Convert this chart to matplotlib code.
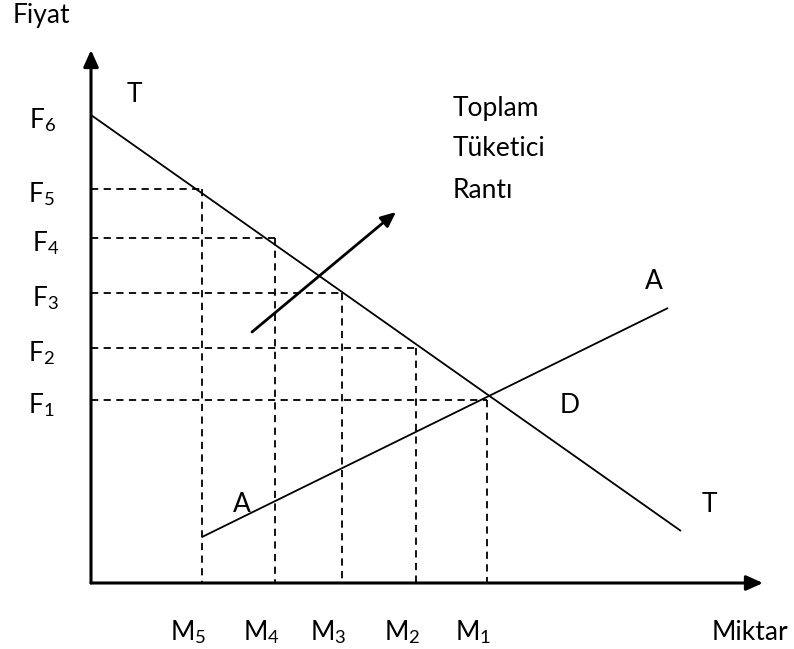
import matplotlib
matplotlib.use("Agg")
import matplotlib.pyplot as plt

plt.rcParams['font.family'] = ['Lato', 'DejaVu Sans']
plt.rcParams['mathtext.fontset'] = 'custom'
plt.rcParams['mathtext.rm'] = 'Lato'
plt.rcParams['mathtext.it'] = 'Lato:italic'

# quantities (M) and prices (F) on the diagram, in axis units
m_labels = ["M5", "M4", "M3", "M2", "M1"]
m_values = [111, 184, 251, 325, 396]
f_labels = ["F5", "F4", "F3", "F2", "F1"]
f_values = [394, 345, 290, 235, 183]
f6_value = 468

# demand (T) and supply (A) lines
demand_x = [0, 590]
demand_y = [468, 52]
supply_x = [111, 577]
supply_y = [46, 275]

# arrow pointing to the surplus label
arrow_start = (161, 251)
arrow_end = (305, 371)

x_axis_end = 672
y_axis_end = 533

dpi = 100
fig = plt.figure(figsize=(794 / dpi, 649 / dpi), dpi=dpi)
ax = fig.add_axes([0, 0, 1, 1])
ax.set_xlim(-91, 703)
ax.set_ylim(-66, 583)
ax.axis("off")

# axes with arrow heads
ax.annotate("", xy=(0, y_axis_end), xytext=(0, 0),
            arrowprops=dict(arrowstyle="-|>,head_length=1.0,head_width=0.45",
                            lw=2.2, color="black", shrinkA=0, shrinkB=0))
ax.annotate("", xy=(x_axis_end, 0), xytext=(0, 0),
            arrowprops=dict(arrowstyle="-|>,head_length=1.0,head_width=0.45",
                            lw=2.2, color="black", shrinkA=0, shrinkB=0))

# dashed guide lines
dash = (0, (4, 3))
for m, f in zip(m_values, f_values):
    ax.plot([0, m], [f, f], color="black", lw=1.3, linestyle=dash)
    ax.plot([m, m], [f, 0], color="black", lw=1.3, linestyle=dash)

# demand and supply
ax.plot(demand_x, demand_y, color="black", lw=1.3, solid_capstyle="butt")
ax.plot(supply_x, supply_y, color="black", lw=1.3, solid_capstyle="butt")

# arrow
ax.annotate("", xy=arrow_end, xytext=arrow_start,
            arrowprops=dict(arrowstyle="-|>,head_length=0.9,head_width=0.4",
                            lw=2.0, color="black", shrinkA=0, shrinkB=0))

fs = 19

def sub_label(text):
    return r"$\mathrm{%s}_{\mathrm{%s}}$" % (text[0], text[1:])

# price labels
f_label_x = [-63, -59, -59, -63, -63]
for lab, f, lx in zip(f_labels, f_values, f_label_x):
    ax.text(lx, f - 5, sub_label(lab), fontsize=fs, ha="left", va="center")
ax.text(-62, f6_value - 5, sub_label("F6"), fontsize=fs, ha="left", va="center")

# quantity labels
for lab, m in zip(m_labels, m_values):
    ax.text(m - 14, -57, sub_label(lab), fontsize=fs, ha="center", va="baseline")

# other texts
ax.text(-78, 560, "Fiyat", fontsize=fs, ha="left", va="baseline")
ax.text(621, -57, "Miktar", fontsize=fs, ha="left", va="baseline")
ax.text(36, 481, "T", fontsize=fs, ha="left", va="baseline")
ax.text(611, 71, "T", fontsize=fs, ha="left", va="baseline")
ax.text(554, 294, "A", fontsize=fs, ha="left", va="baseline")
ax.text(142, 71, "A", fontsize=fs, ha="left", va="baseline")
ax.text(469, 170, "D", fontsize=fs, ha="left", va="baseline")
ax.text(362, 467, "Toplam", fontsize=fs, ha="left", va="baseline")
ax.text(362, 427, "Tüketici", fontsize=fs, ha="left", va="baseline")
ax.text(362, 385, "Rantı", fontsize=fs, ha="left", va="baseline")

fig.savefig("out.png", dpi=dpi)
plt.close(fig)
